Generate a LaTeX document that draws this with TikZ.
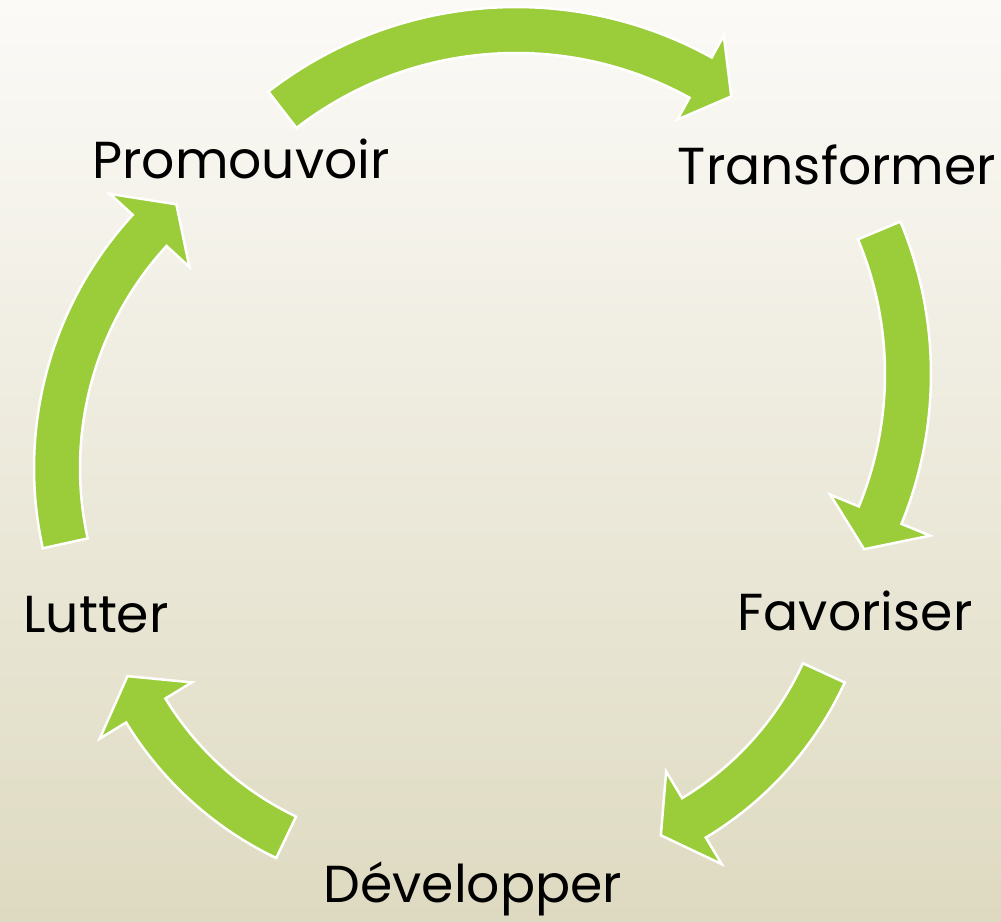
\documentclass[tikz,border=0pt]{standalone}
\usepackage{fontspec}
\setmainfont{Poppins}
\definecolor{cyclegreen}{RGB}{155,204,57}
\definecolor{bgtop}{RGB}{251,250,247}
\definecolor{bgbottom}{RGB}{222,218,193}

\begin{document}
\begin{tikzpicture}[x=1pt,y=-1pt]
\tikzset{
  cyclearrow/.style={fill=cyclegreen, draw=white, line width=2.5pt, line join=miter},
  stage/.style={font=\fontsize{52}{52}\selectfont, text=black, inner sep=0pt, anchor=base}
}
\shade[top color=bgtop, bottom color=bgbottom] (0,0) rectangle (1001,921);
\useasboundingbox (0,0) rectangle (1001,921);
% curved arrows: centre, radius, tail angle, head angle, tip angle, head half width
\foreach \cx/\cy/\r/\a/\b/\t/\h in {516/412/382/-127.7/-61.1/-55.7/48,
    536/374/372/-22.7/22.3/28.1/54,
    524/535/330/24.7/59.0/65.5/54,
    430/537/333/115.6/148.6/155.3/54,
    408/468/351/167.6/222.6/228.7/54}{
  \pgfmathsetmacro\ro{\r+23}
  \pgfmathsetmacro\ri{\r-23}
  \pgfmathsetmacro\ho{\r+\h}
  \pgfmathsetmacro\hi{\r-\h}
  \begin{scope}[shift={(\cx,\cy)}]
    \filldraw[cyclearrow] (\a:\ro) arc[start angle=\a, end angle=\b, radius=\ro]
      -- (\b:\ho) -- (\t:\r) -- (\b:\hi) -- (\b:\ri)
      arc[start angle=\b, end angle=\a, radius=\ri] -- cycle;
  \end{scope}
}
\node[stage] (promouvoir) at (241,178) {Promouvoir};
\node[stage] (transformer) at (837,184) {Transformer};
\node[stage] (favoriser) at (855,630) {Favoriser};
\node[stage] (developper) at (473,902) {Développer};
\node[stage] (lutter) at (96,632) {Lutter};
\end{tikzpicture}
\end{document}
